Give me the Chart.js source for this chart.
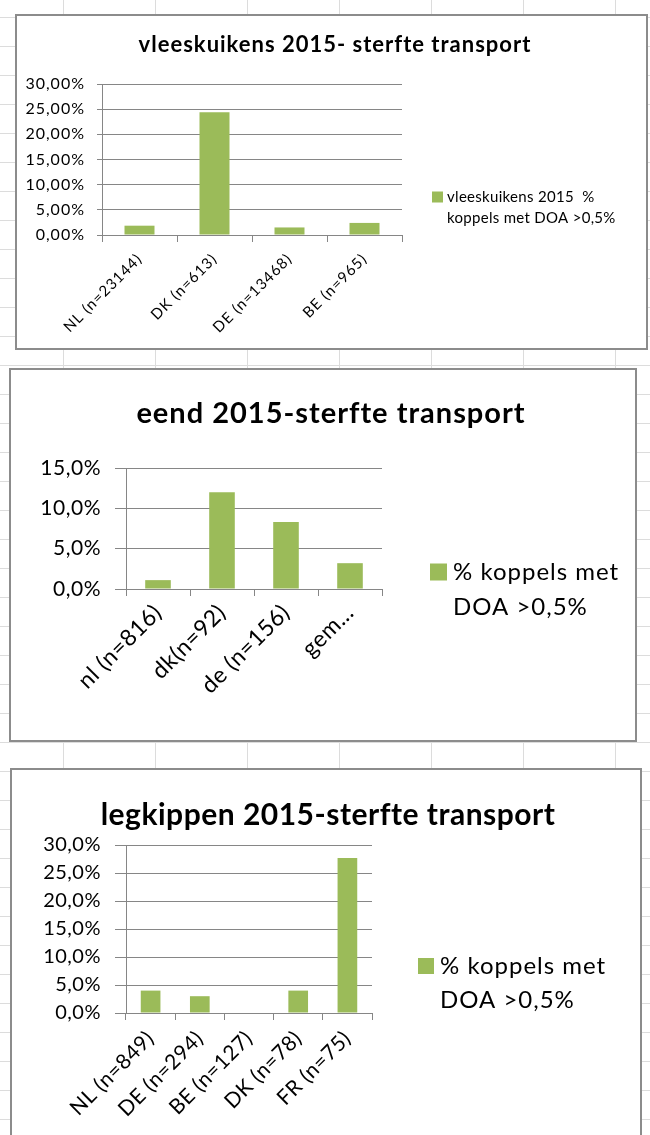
<!DOCTYPE html>
<html>
<head>
<meta charset="utf-8">
<script src="https://cdn.jsdelivr.net/npm/chart.js@4.4.1/dist/chart.umd.min.js"></script>
<style>
  body {
    margin: 0;
    width: 650px;
    height: 1135px;
    overflow: hidden;
    position: relative;
    background-color: #fff;
    background-image: linear-gradient(to right, #dcdcdc 1px, transparent 1px),
                      linear-gradient(to bottom, #dcdcdc 1px, transparent 1px);
    background-size: 92px 29px;
    background-position: 63px 17px;
  }
  .box { position: absolute; background: #fff; border: 2px solid #8c8c8c; }
  .box canvas { display: block; }
</style>
</head>
<body>
<div class="box" style="left:15px; top:14px;"><canvas id="vleesChart" width="629" height="332"></canvas></div>
<div class="box" style="left:9px; top:368px;"><canvas id="eendChart" width="624" height="370"></canvas></div>
<div class="box" style="left:10px; top:768px;"><canvas id="legChart" width="628" height="378"></canvas></div>

<script>
// DATA
const vleesLabels = ['NL (n=23144)', 'DK (n=613)', 'DE (n=13468)', 'BE (n=965)'];
const vleesValues = [1.85, 24.4, 1.5, 2.4];
const vleesLegend = ['vleeskuikens 2015  %', 'koppels met DOA >0,5%'];
const vleesTicks = [0, 5, 10, 15, 20, 25, 30];

const eendLabels = ['nl (n=816)', 'dk(n=92)', 'de (n=156)', 'gem...'];
const eendValues = [1.1, 12.0, 8.3, 3.2];
const eendLegend = ['% koppels met', 'DOA >0,5%'];
const eendTicks = [0, 5, 10, 15];

const legLabels = ['NL (n=849)', 'DE (n=294)', 'BE (n=127)', 'DK (n=78)', 'FR (n=75)'];
const legValues = [4.0, 3.0, 0, 4.0, 27.7];
const legLegend = ['% koppels met', 'DOA >0,5%'];
const legTicks = [0, 5, 10, 15, 20, 25, 30];

const GREEN = '#9BBB59';
const GRID = '#868686';
const FONT = 'Lato';

// titel + legenda tekenen (Excel-stijl, legenda met 2 regels)
const boxText = {
    id: 'boxText',
    beforeDraw(chart, args, o) {
        chart.ctx.letterSpacing = o.spacing;
    },
    afterDraw(chart, args, o) {
        const c = chart.ctx;
        c.save();
        c.fillStyle = '#000';
        c.textBaseline = 'middle';
        c.textAlign = 'center';
        c.letterSpacing = o.titleSpacing;
        c.font = o.titleFont;
        c.fillText(o.title, o.titleX, o.titleY);

        c.fillStyle = GREEN;
        c.fillRect(o.legX, o.legY - o.sq / 2, o.sq, o.sq);
        c.fillStyle = '#000';
        c.textAlign = 'left';
        c.letterSpacing = o.legSpacing;
        c.font = o.legFont;
        o.legend.forEach((line, i) => {
            c.fillText(line, o.legX + o.sq + o.gap, o.legY + i * o.lineH);
        });
        c.restore();
        c.letterSpacing = '0px';
    }
};

function makeChart(id, labels, values, ticks, decimals, s) {
    const ctx = document.getElementById(id).getContext('2d');
    return new Chart(ctx, {
        type: 'bar',
        data: {
            labels: labels,
            datasets: [{
                label: s.legend.join(' '),
                data: values,
                backgroundColor: GREEN,
                borderWidth: 0,
                barPercentage: 0.4,
                categoryPercentage: 1.0
            }]
        },
        options: {
            responsive: false,
            animation: false,
            layout: {
                padding: s.padding
            },
            scales: {
                x: {
                    grid: {
                        drawOnChartArea: false,
                        drawTicks: true,
                        tickLength: 7,
                        color: GRID
                    },
                    border: { color: GRID, width: 1 },
                    ticks: {
                        minRotation: 45,
                        maxRotation: 45,
                        autoSkip: false,
                        padding: s.xPad,
                        color: '#000',
                        font: { family: FONT, size: s.xSize }
                    },
                    afterFit: (scale) => { scale.height = s.xHeight; }
                },
                y: {
                    min: ticks[0],
                    max: ticks[ticks.length - 1],
                    grid: {
                        color: GRID,
                        tickLength: s.yTick
                    },
                    border: { color: GRID, width: 1 },
                    ticks: {
                        stepSize: ticks[1] - ticks[0],
                        padding: s.yPad,
                        color: '#000',
                        font: { family: FONT, size: s.ySize },
                        callback: (v) => v.toFixed(decimals).replace('.', ',') + '%'
                    },
                    afterFit: (scale) => { scale.width = s.yWidth; }
                }
            },
            plugins: {
                legend: { display: false },
                title: { display: false },
                tooltip: { enabled: false },
                boxText: {
                    spacing: s.spacing,
                    title: s.title,
                    titleFont: s.titleFont,
                    titleSpacing: s.titleSpacing,
                    titleX: s.titleX,
                    titleY: s.titleY,
                    legend: s.legend,
                    legFont: s.legFont,
                    legSpacing: s.legSpacing,
                    legX: s.legX,
                    legY: s.legY,
                    sq: s.sq,
                    gap: s.gap,
                    lineH: s.lineH
                }
            }
        },
        plugins: [boxText]
    });
}

document.addEventListener('DOMContentLoaded', function() {
    // VLEESKUIKENS
    makeChart('vleesChart', vleesLabels, vleesValues, vleesTicks, 2, {
        padding: { left: 5, top: 68, right: 244, bottom: 0 },
        spacing: '1px',
        yWidth: 80, yTick: 5, yPad: 12, ySize: 16,
        xHeight: 113, xPad: 8, xSize: 15,
        title: 'vleeskuikens 2015- sterfte transport',
        titleFont: 'bold 22px ' + FONT, titleSpacing: '1px', titleX: 318, titleY: 29,
        legend: vleesLegend, legFont: '15px ' + FONT, legSpacing: '0.3px',
        legX: 415, legY: 181, sq: 11, gap: 4, lineH: 21
    });

    // EEND
    makeChart('eendChart', eendLabels, eendValues, eendTicks, 1, {
        padding: { left: 5, top: 98, right: 253, bottom: 0 },
        spacing: '0.5px',
        yWidth: 110, yTick: 11, yPad: 14, ySize: 21,
        xHeight: 151, xPad: 3, xSize: 23,
        title: 'eend 2015-sterfte transport',
        titleFont: 'bold 29px ' + FONT, titleSpacing: '1px', titleX: 320, titleY: 44,
        legend: eendLegend, legFont: '24px ' + FONT, legSpacing: '1px',
        legX: 419, legY: 202, sq: 17, gap: 6, lineH: 35
    });

    // LEGKIPPEN
    makeChart('legChart', legLabels, legValues, legTicks, 1, {
        padding: { left: 5, top: 75, right: 268, bottom: 0 },
        spacing: '0.5px',
        yWidth: 109, yTick: 11, yPad: 14, ySize: 20,
        xHeight: 135, xPad: 6, xSize: 21,
        title: 'legkippen 2015-sterfte transport',
        titleFont: 'bold 30px ' + FONT, titleSpacing: '0.5px', titleX: 316, titleY: 45,
        legend: legLegend, legFont: '24px ' + FONT, legSpacing: '1px',
        legX: 406, legY: 196, sq: 16, gap: 6, lineH: 34
    });
});
</script>
</body>
</html>
